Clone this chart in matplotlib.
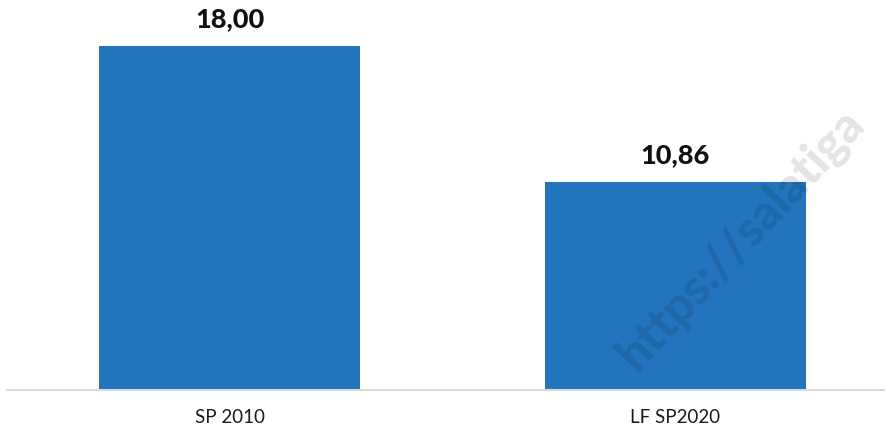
import matplotlib
matplotlib.use('Agg')
from matplotlib import pyplot as plt

categories = ['SP 2010', 'LF SP2020']
values = [18.00, 10.86]
value_labels = ['18,00', '10,86']

fig = plt.figure(figsize=(8.85, 4.33), dpi=100)
ax = fig.add_axes([7/885, 43/433, 878/885, 390/433])

x = list(range(len(categories)))
ax.bar(x, values, width=0.586, color='#2275BC')
ax.set_xlim(-0.5, 1.471)
ax.set_ylim(0, 20.41)

for xi, v, lab in zip(x, values, value_labels):
    ax.text(xi, v + 0.8, lab, ha='center', va='bottom', fontsize=19.5,
            fontweight='black', family='Lato', color='#111111')

ax.set_xticks(x)
ax.set_xticklabels(categories, fontsize=13.5, family='Lato', fontweight='normal',
                   color='#1a1a1a')
ax.tick_params(axis='x', length=0, pad=14)
ax.set_yticks([])
for s in ['top', 'left', 'right']:
    ax.spines[s].set_visible(False)
ax.spines['bottom'].set_color('#d9d9d9')
ax.spines['bottom'].set_linewidth(1.5)

# watermark
fig.text(642/885, 1 - 378/433, 'https://salatiga', rotation=47, fontsize=35,
         fontweight='black', family='Lato', color='black', alpha=0.11,
         ha='left', va='bottom', rotation_mode='anchor')

plt.savefig('out.png', dpi=100)
